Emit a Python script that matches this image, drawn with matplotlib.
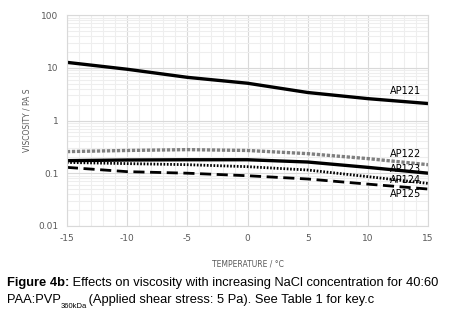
import matplotlib.pyplot as plt
from matplotlib.ticker import FixedLocator, NullFormatter

plt.rcParams['axes.unicode_minus'] = False

temps = [-15, -10, -5, 0, 5, 10, 15]
ap121 = [12.7, 9.4, 6.6, 5.1, 3.4, 2.6, 2.1]
ap122 = [0.257, 0.27, 0.28, 0.27, 0.235, 0.189, 0.145]
ap123 = [0.173, 0.178, 0.18, 0.18, 0.163, 0.129, 0.10]
ap124 = [0.16, 0.152, 0.145, 0.133, 0.115, 0.086, 0.064]
ap125 = [0.129, 0.107, 0.10, 0.0895, 0.0776, 0.062, 0.050]

labels = ['AP121', 'AP122', 'AP123', 'AP124', 'AP125']
label_pos = [(11.8, 3.57), (11.8, 0.235), (11.8, 0.122), (11.8, 0.0752), (11.8, 0.0407)]

fig = plt.figure(figsize=(4.55, 3.09), dpi=100)
ax = fig.add_axes([0.147, 0.269, 0.794, 0.682])

ax.plot(temps, ap121, color='black', lw=2.4)
ax.plot(temps, ap122, color='#808080', lw=2.4, linestyle=(0, (1, 0.5)))
ax.plot(temps, ap123, color='black', lw=2.4)
ax.plot(temps, ap124, color='black', lw=2, linestyle=(0, (0.6, 0.6)))
ax.plot(temps, ap125, color='black', lw=2, linestyle=(0, (4, 2)))

for lab, (x, y) in zip(labels, label_pos):
    ax.text(x, y, lab, fontsize=7, family='DejaVu Sans', va='center', ha='left')

ax.set_yscale('log')
ax.set_xlim(-15, 15)
ax.set_ylim(0.01, 100)
ax.set_xticks(range(-15, 16, 5))
ax.xaxis.set_minor_locator(FixedLocator(range(-15, 16)))
ax.set_yticks([0.01, 0.1, 1, 10, 100])
ax.set_yticklabels(['0.01', '0.1', '1', '10', '100'])
ax.yaxis.set_minor_formatter(NullFormatter())
ax.grid(True, which='major', color='#d9d9d9', lw=0.8)
ax.grid(True, which='minor', color='#eeeeee', lw=0.8)
ax.set_axisbelow(True)
for s in ax.spines.values():
    s.set_color('#d9d9d9')
ax.tick_params(which='both', length=0, labelsize=6.5, labelcolor='#595959', pad=6)

ax.set_xlabel('TEMPERATURE / °C', fontsize=5.5, color='#595959', labelpad=12)
ax.set_ylabel('VISCOSITY / PA S', fontsize=5.5, color='#595959', labelpad=5)

# caption, pieces placed one after another
r = fig.canvas.get_renderer()
fs = 9.3
def put(x, y, s, **kw):
    t = fig.text(x, y, s, fontsize=kw.pop('size', fs), family='Liberation Sans', **kw)
    w = t.get_window_extent(renderer=r).width / fig.bbox.width
    return x + w

x = put(0.015, 0.075, 'Figure 4b:', weight='bold')
put(x, 0.075, ' Effects on viscosity with increasing NaCl concentration for 40:60')
x = put(0.015, 0.018, 'PAA:PVP')
x = put(x, 0.004, '360kDa', size=5.5)
put(x - 0.005, 0.018, ' (Applied shear stress: 5 Pa). See Table 1 for key.c')

fig.savefig('out.png', dpi=100)
